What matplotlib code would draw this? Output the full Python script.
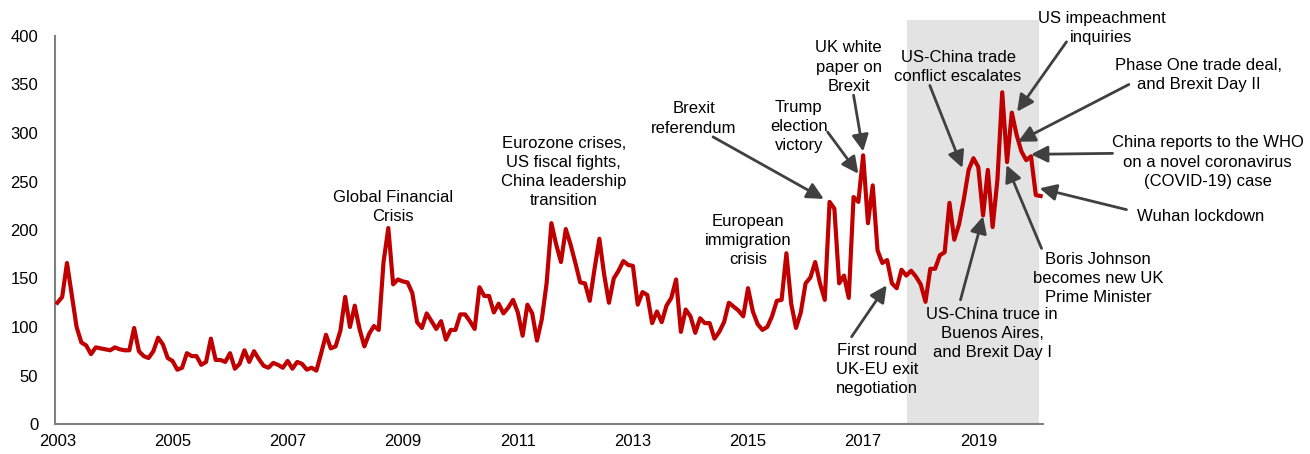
import numpy as np
import pandas as pd
import matplotlib
matplotlib.use("Agg")
import matplotlib.pyplot as plt
from matplotlib.patches import Rectangle

plt.rcParams['font.family'] = ['Liberation Sans', 'DejaVu Sans']

# monthly index, Jan 2003 - Feb 2020
months = pd.date_range('2003-01-01', periods=206, freq='MS')
values = [
    125, 131, 166, 133, 100, 84, 81, 72, 79, 78,
    77, 76, 79, 77, 76, 76, 99, 75, 70, 68,
    75, 89, 82, 68, 65, 56, 58, 73, 70, 70,
    61, 64, 88, 66, 66, 64, 73, 57, 62, 76,
    64, 75, 67, 60, 58, 63, 61, 58, 65, 57,
    64, 62, 56, 58, 55, 73, 92, 78, 80, 96,
    131, 100, 122, 98, 80, 93, 101, 97, 167, 202,
    144, 149, 147, 146, 135, 105, 99, 114, 106, 98,
    106, 87, 97, 97, 113, 113, 106, 98, 141, 132,
    132, 115, 124, 114, 120, 128, 115, 91, 123, 114,
    86, 108, 145, 207, 185, 167, 201, 185, 166, 146,
    145, 127, 160, 191, 154, 125, 150, 158, 168, 164,
    163, 123, 136, 133, 104, 116, 105, 122, 130, 149,
    95, 118, 111, 94, 109, 104, 104, 88, 95, 105,
    125, 121, 117, 111, 140, 116, 103, 97, 100, 111,
    127, 128, 176, 124, 99, 115, 145, 151, 167, 145,
    128, 229, 222, 145, 153, 130, 234, 229, 277, 207,
    246, 179, 166, 169, 145, 140, 159, 153, 158, 152,
    144, 126, 160, 160, 174, 177, 228, 190, 206, 232,
    262, 274, 265, 215, 262, 203, 252, 342, 270, 321,
    298, 281, 272, 276, 236, 235,
]

# shaded period (in month-index units) and its top value
shade_start, shade_end, shade_top = 177.2, 204.7, 416

# (text, text x, text y, arrow start, arrow tip)
notes = [
    ("Global Financial\nCrisis", 70, 224, None, None),
    ("Eurozone crises,\nUS fiscal fights,\nChina leadership\ntransition", 105.6, 260, None, None),
    ("European\nimmigration\ncrisis", 144, 189, None, None),
    ("Brexit\nreferendum", 132.7, 315, (136.7, 296), (159.8, 232)),
    ("Trump\nelection\nvictory", 154.6, 307, (160.6, 301), (167, 258)),
    ("UK white\npaper on\nBrexit", 165, 368, (166, 339), (168, 281)),
    ("US-China trade\nconflict escalates", 187.8, 368, (181.9, 349), (188.7, 264)),
    ("US impeachment\ninquiries", 217.7, 408, (210.4, 394), (200.1, 322)),
    ("Phase One trade deal,\nand Brexit Day II", 238, 360, (223.4, 350), (200.3, 291)),
    ("China reports to the WHO\non a novel coronavirus\n(COVID-19) case", 239.8, 270, (220, 279), (203, 278)),
    ("Wuhan lockdown", 238.3, 214, (222.9, 221), (204.8, 243)),
    ("Boris Johnson\nbecomes new UK\nPrime Minister", 217, 150, (205.2, 181), (197.9, 267)),
    ("US-China truce in\nBuenos Aires,\nand Brexit Day I", 194.9, 93, (188.3, 128), (193, 214)),
    ("First round\nUK-EU exit\nnegotiation", 170.9, 56, (165.6, 90), (172.9, 143)),
]

x = np.arange(len(values))

fig = plt.figure(figsize=(13.1, 4.54), dpi=100)
ax = fig.add_axes([55 / 1310, 30 / 454, 988 / 1310, 388 / 454])

ax.add_patch(Rectangle((shade_start, 0), shade_end - shade_start, shade_top,
                       facecolor='#e3e3e3', edgecolor='none', clip_on=False, zorder=0))
ax.plot(x, values, color='#c00000', lw=3.0, solid_joinstyle='round', zorder=3)

ax.set_xlim(-0.5, len(values) - 0.5)
ax.set_ylim(0, 400)
ax.set_yticks(np.arange(0, 401, 50))

tick_pos = [i for i, m in enumerate(months) if m.month == 1 and m.year % 2 == 1]
ax.set_xticks(tick_pos)
ax.set_xticklabels([str(months[i].year) for i in tick_pos])
ax.tick_params(axis='both', length=0, labelsize=12, colors='black')
ax.tick_params(axis='x', pad=7)
ax.tick_params(axis='y', pad=12)

for side in ['top', 'right']:
    ax.spines[side].set_visible(False)
for side in ['left', 'bottom']:
    ax.spines[side].set_color('#808080')
    ax.spines[side].set_linewidth(1.5)

for text, tx, ty, start, tip in notes:
    ax.text(tx, ty, text, ha='center', va='center', fontsize=12,
            linespacing=1.35, clip_on=False, zorder=5)
    if start is not None:
        ax.annotate('', xy=tip, xytext=start, annotation_clip=False,
                    arrowprops=dict(arrowstyle='-|>', color='#404040', lw=2,
                                    mutation_scale=25, shrinkA=0, shrinkB=0),
                    zorder=4)

fig.savefig('out.png', dpi=100)
